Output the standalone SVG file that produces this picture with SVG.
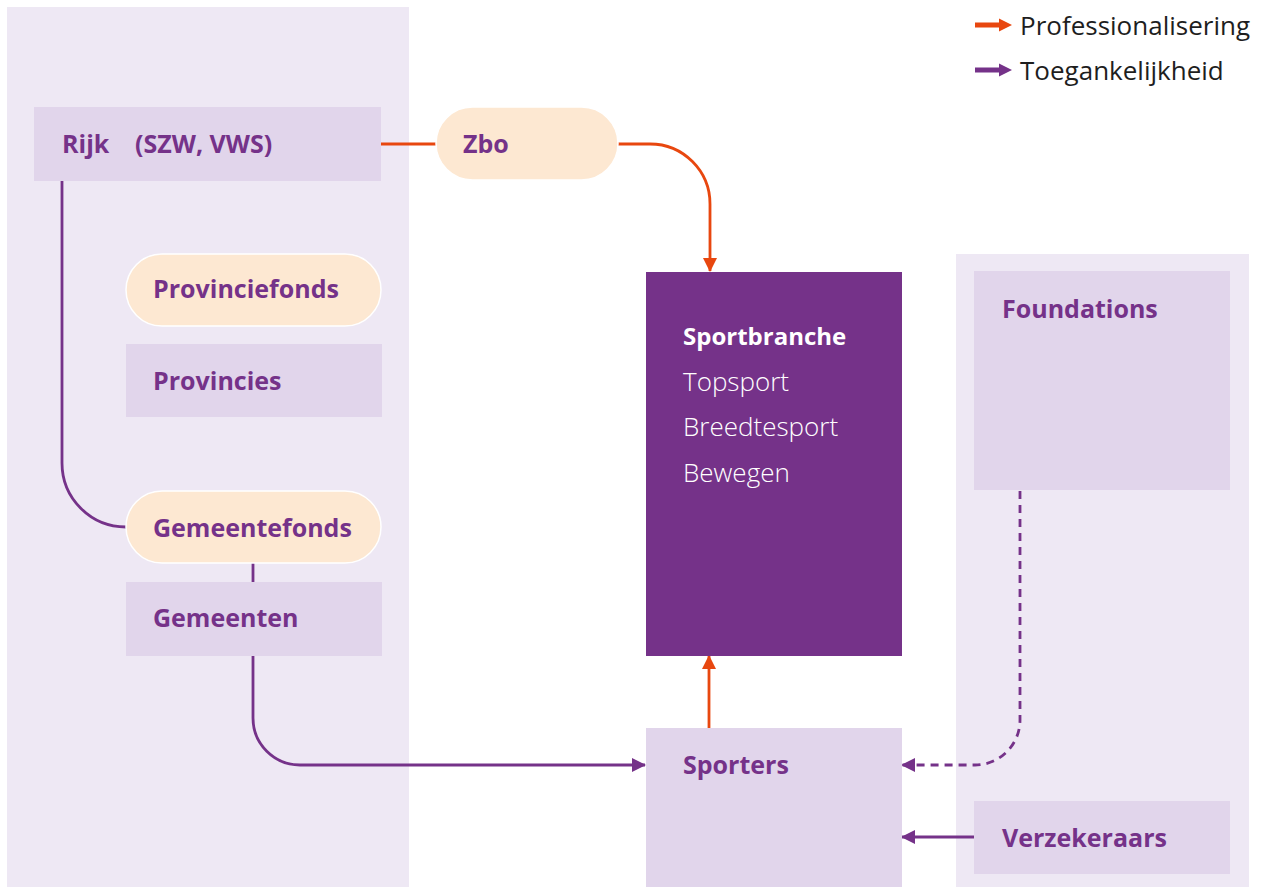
<svg xmlns="http://www.w3.org/2000/svg" width="1263" height="887" viewBox="0 0 1263 887">
<style>
.panel{fill:#EEE8F4}
.box{fill:#E1D5EB}
.pill{fill:#FDE8D2;stroke:#FFFFFF;stroke-width:1.5}
.dark{fill:#753289}
.lbl{font-family:"Open Sans","Liberation Sans",sans-serif;font-weight:700;font-size:25px;fill:#753289}
.wt{font-family:"Open Sans","Liberation Sans",sans-serif;font-size:26px;font-weight:300;fill:#FFFFFF}
.wt.hd{font-size:24px;font-weight:700}
.leg{font-family:"Open Sans","Liberation Sans",sans-serif;font-size:26px;font-weight:400;fill:#1E1E1E}
.or{fill:none;stroke:#E8470F;stroke-width:2.8}
.pu{fill:none;stroke:#753289;stroke-width:2.8}
.da{stroke-dasharray:8 6}
</style>
<defs>
<marker id="ao" markerUnits="userSpaceOnUse" markerWidth="14" markerHeight="14" refX="13" refY="7" orient="auto" viewBox="0 0 14 14">
<path d="M0,0 L14,7 L0,14 z" fill="#E8470F"/>
</marker>
<marker id="ap" markerUnits="userSpaceOnUse" markerWidth="14" markerHeight="14" refX="13" refY="7" orient="auto" viewBox="0 0 14 14">
<path d="M0,0 L14,7 L0,14 z" fill="#753289"/>
</marker>
</defs>
<rect width="1263" height="887" fill="#FFFFFF"/>
<rect class="panel" x="7" y="7" width="402" height="880"/>
<rect class="panel" x="956" y="254" width="293" height="633"/>

<g id="legend">
<rect x="975" y="22.5" width="25" height="5" fill="#E8470F"/>
<polygon points="999,18.5 1012,25 999,31.5" fill="#E8470F"/>
<text class="leg" x="1020" y="35">Professionalisering</text>
<rect x="975" y="67.5" width="25" height="5" fill="#753289"/>
<polygon points="999,63.5 1012,70 999,76.5" fill="#753289"/>
<text class="leg" x="1020" y="80">Toegankelijkheid</text>
</g>

<g id="connectors">
<line class="or" x1="381" y1="144" x2="436" y2="144"/>
<path class="or" d="M618,144 H650 A60,60 0 0 1 710,204 V271" marker-end="url(#ao)"/>
<line class="or" x1="709" y1="728" x2="709" y2="656" marker-end="url(#ao)"/>
<path class="pu" d="M62,180 V463 A64,64 0 0 0 126,527"/>
<line class="pu" x1="253" y1="563" x2="253" y2="582"/>
<path class="pu" d="M253,655 V718 A47,47 0 0 0 300,765 H645" marker-end="url(#ap)"/>
<path class="pu da" d="M1020,491 V720 A45,45 0 0 1 975,765 H902" marker-end="url(#ap)"/>
<line class="pu" x1="974" y1="837" x2="902" y2="837" marker-end="url(#ap)"/>
</g>

<g id="rijk">
<rect class="box" x="34" y="107" width="347" height="74"/>
<text class="lbl" x="62" y="153">Rijk<tspan x="135">(SZW, VWS)</tspan></text>
</g>
<g id="zbo">
<rect class="pill" x="436" y="107" width="182" height="73" rx="36.5"/>
<text class="lbl" x="463" y="153">Zbo</text>
</g>
<g id="provinciefonds">
<rect class="pill" x="126" y="254" width="255" height="72" rx="36"/>
<text class="lbl" x="153" y="298">Provinciefonds</text>
</g>
<g id="provincies">
<rect class="box" x="126" y="344" width="256" height="73"/>
<text class="lbl" x="153" y="390">Provincies</text>
</g>
<g id="gemeentefonds">
<rect class="pill" x="126" y="491" width="255" height="72" rx="36"/>
<text class="lbl" x="153" y="537">Gemeentefonds</text>
</g>
<g id="gemeenten">
<rect class="box" x="126" y="582" width="256" height="74"/>
<text class="lbl" x="153" y="627">Gemeenten</text>
</g>
<g id="sportbranche">
<rect class="dark" x="646" y="272" width="256" height="384"/>
<text class="wt hd" x="683" y="345">Sportbranche</text>
<text class="wt" x="683" y="391">Topsport</text>
<text class="wt" x="683" y="436">Breedtesport</text>
<text class="wt" x="683" y="482">Bewegen</text>
</g>
<g id="sporters">
<rect class="box" x="646" y="728" width="256" height="159"/>
<text class="lbl" x="683" y="774">Sporters</text>
</g>
<g id="foundations">
<rect class="box" x="974" y="271" width="256" height="219"/>
<text class="lbl" x="1002" y="318">Foundations</text>
</g>
<g id="verzekeraars">
<rect class="box" x="974" y="801" width="256" height="73"/>
<text class="lbl" x="1002" y="847">Verzekeraars</text>
</g>
</svg>
